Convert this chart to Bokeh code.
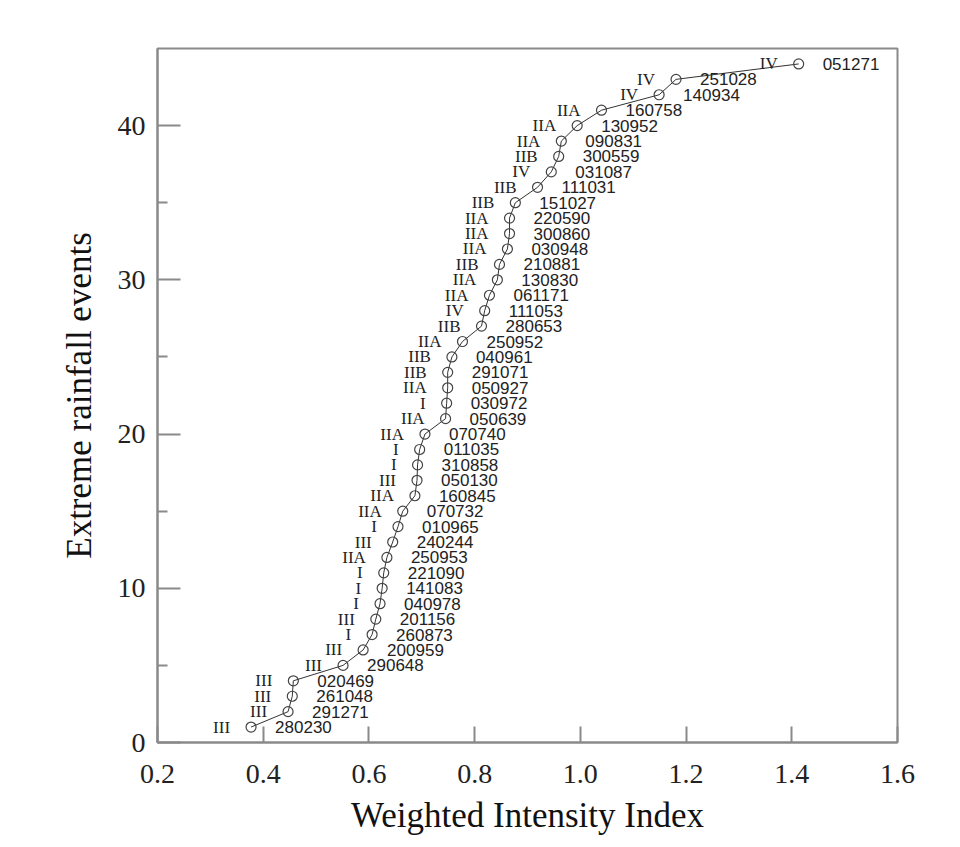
from bokeh.plotting import figure
from bokeh.models import FixedTicker, ColumnDataSource
from bokeh.core.properties import value
from bokeh.embed import file_html
from bokeh.resources import INLINE

# ---- data ----
event_rank = list(range(1, 45))
wii = [0.377, 0.447, 0.455, 0.457, 0.551, 0.589, 0.606, 0.613, 0.621, 0.625,
       0.628, 0.634, 0.645, 0.655, 0.664, 0.687, 0.691, 0.692, 0.696, 0.706,
       0.745, 0.747, 0.749, 0.749, 0.757, 0.777, 0.813, 0.819, 0.828, 0.843,
       0.847, 0.862, 0.866, 0.866, 0.877, 0.919, 0.945, 0.959, 0.964, 0.994,
       1.040, 1.149, 1.181, 1.413]
classes = ["III", "III", "III", "III", "III", "III", "I", "III", "I", "I",
           "I", "IIA", "III", "I", "IIA", "IIA", "III", "I", "I", "IIA",
           "IIA", "I", "IIA", "IIB", "IIB", "IIA", "IIB", "IV", "IIA", "IIA",
           "IIB", "IIA", "IIA", "IIA", "IIB", "IIB", "IV", "IIB", "IIA", "IIA",
           "IIA", "IV", "IV", "IV"]
dates = ["280230", "291271", "261048", "020469", "290648", "200959", "260873", "201156", "040978", "141083",
         "221090", "250953", "240244", "010965", "070732", "160845", "050130", "310858", "011035", "070740",
         "050639", "030972", "050927", "291071", "040961", "250952", "280653", "111053", "061171", "130830",
         "210881", "030948", "300860", "220590", "151027", "111031", "031087", "300559", "090831", "130952",
         "160758", "140934", "251028", "051271"]
x_ticks = [0.2, 0.4, 0.6, 0.8, 1.0, 1.2, 1.4, 1.6]
x_tick_labels = ["0.2", "0.4", "0.6", "0.8", "1.0", "1.2", "1.4", "1.6"]
y_ticks = [0, 10, 20, 30, 40]
y_minor_ticks = [5, 15, 25, 35]

src = ColumnDataSource(dict(x=wii, y=event_rank, cls=classes, date=dates))

p = figure(width=951, height=839, output_backend="svg", toolbar_location=None,
           x_range=(0.2, 1.6), y_range=(0, 45),
           min_border_left=157, min_border_right=54, min_border_top=48, min_border_bottom=97)
p.background_fill_color = "white"
p.border_fill_color = "white"
p.grid.visible = False
p.outline_line_color = "#8a8a8a"
p.outline_line_width = 2

serif = "Liberation Serif"

p.xaxis.ticker = FixedTicker(ticks=x_ticks)
p.xaxis.major_label_overrides = {t: l for t, l in zip(x_ticks, x_tick_labels)}
p.yaxis.ticker = FixedTicker(ticks=y_ticks, minor_ticks=y_minor_ticks)

for ax in (p.xaxis[0], p.yaxis[0]):
    ax.axis_line_color = "#8a8a8a"
    ax.axis_line_width = 2
    ax.major_tick_line_color = "#8a8a8a"
    ax.major_tick_line_width = 2
    ax.minor_tick_line_color = "#8a8a8a"
    ax.minor_tick_line_width = 2
    ax.major_tick_out = 0
    ax.minor_tick_out = 0
    ax.major_label_text_font = serif
    ax.major_label_text_font_size = "28px"
    ax.major_label_text_color = "#222222"
    ax.axis_label_text_font = serif
    ax.axis_label_text_font_size = "35px"
    ax.axis_label_text_font_style = "normal"
    ax.axis_label_text_color = "#111111"

p.xaxis.major_tick_in = 16
p.xaxis.minor_tick_in = 0
p.xaxis.minor_tick_line_color = None
p.xaxis.major_label_standoff = 22
p.xaxis.axis_label = "Weighted Intensity Index"
p.xaxis.axis_label_standoff = 10

p.yaxis.major_tick_in = 23
p.yaxis.minor_tick_in = 10
p.yaxis.major_label_standoff = 12
p.yaxis.axis_label = "Extreme rainfall events"
p.yaxis.axis_label_standoff = 16

p.line("x", "y", source=src, line_color="#333333", line_width=1)
p.scatter("x", "y", source=src, marker="circle", size=10, fill_color=None,
          line_color="#444444", line_width=1.2)

p.text("x", "y", text="cls", source=src, x_offset=-21, text_align="right",
       text_baseline="middle", text_font=value(serif), text_font_size="17px",
       text_color="#222222")
p.text("x", "y", text="date", source=src, x_offset=24, text_align="left",
       text_baseline="middle", text_font=value("Liberation Sans"), text_font_size="17px",
       text_color="#222222")

open("out.html", "w").write(file_html(p, INLINE))
